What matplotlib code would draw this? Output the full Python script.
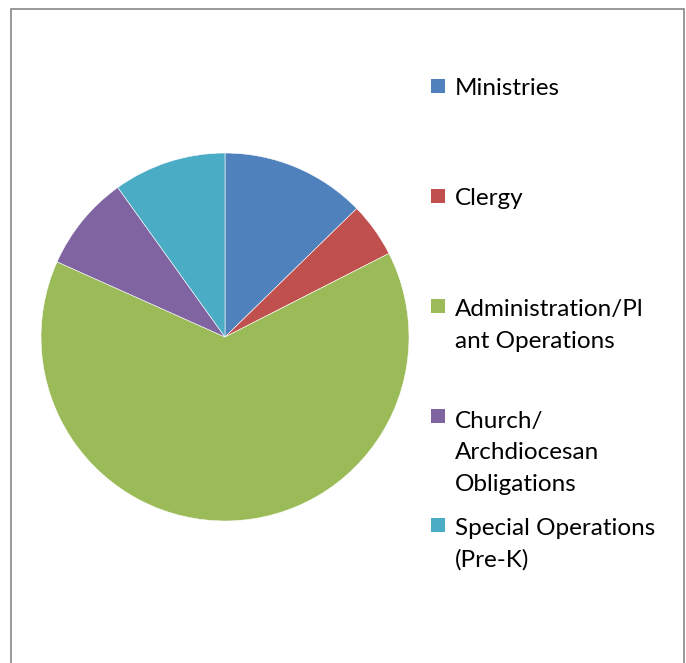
import matplotlib
matplotlib.use("Agg")
import matplotlib.pyplot as plt
from matplotlib.patches import Rectangle

# data (percent of total)
labels = ["Ministries", "Clergy", "Administration/Pl\nant Operations",
          "Church/\nArchdiocesan\nObligations", "Special Operations\n(Pre-K)"]
shares = [12.7, 4.8, 64.2, 8.4, 9.9]
colors = ["#4F81BD", "#C0504D", "#9BBB59", "#8064A2", "#4BACC6"]

W, H = 686, 663
fig = plt.figure(figsize=(W / 100, H / 100), dpi=100)
fig.patch.set_facecolor("white")

# pie placed so that its centre is at (225, 337) px with radius 184 px
cx, cy, r = 225, 337, 184
ax = fig.add_axes([(cx - r) / W, (H - cy - r) / H, 2 * r / W, 2 * r / H])
ax.pie(shares, colors=colors, startangle=90, counterclock=False,
       wedgeprops=dict(edgecolor="white", linewidth=0.4))
ax.set_xlim(-1, 1)
ax.set_ylim(-1, 1)
ax.set_aspect("equal")

# legend drawn by hand, Excel style spacing
marker_y = [86, 196, 306, 416, 525]
line_px = 33
for lab, col, my in zip(labels, colors, marker_y):
    fig.add_artist(Rectangle((431 / W, (H - my - 7) / H), 14 / W, 14 / H,
                             transform=fig.transFigure, facecolor=col,
                             edgecolor="none"))
    # baseline alignment uses the last line, so push down by the extra lines
    n = lab.count("\n")
    base = my + 9 + n * line_px
    fig.text(455 / W, (H - base) / H, lab, fontsize=17.5, family="Lato",
             va="baseline", ha="left", color="black", linespacing=1.62)

# outer chart border
fig.add_artist(Rectangle((11 / W, -0.05), (684 - 11) / W, (H - 9) / H + 0.05,
                         transform=fig.transFigure, fill=False,
                         edgecolor="#888888", linewidth=1.2))

fig.savefig("out.png", dpi=100)
